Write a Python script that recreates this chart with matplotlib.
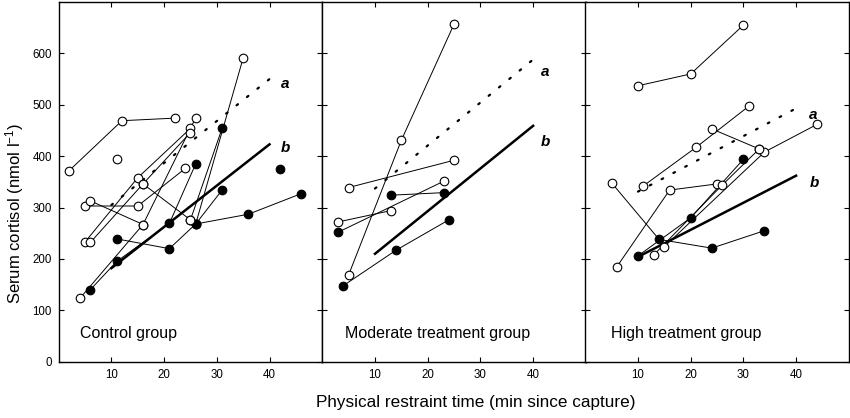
import matplotlib
matplotlib.use("Agg")
import matplotlib.pyplot as plt

plt.rcParams['font.family'] = ['Liberation Sans', 'DejaVu Sans']
plt.rcParams['mathtext.default'] = 'regular'

# ---------------- data ----------------
panel_titles = ["Control group", "Moderate treatment group", "High treatment group"]
x_ticks = [10, 20, 30, 40]
y_ticks = [0, 100, 200, 300, 400, 500, 600]

# Control group: individual series (x = min since capture, y = nmol/l, filled flag)
ctrl_x = [[2, 12, 22], [5, 15, 25], [6, 16, 25], [5, 15, 24], [6, 16], [16, 25],
          [4, 16, 26], [6, 11, 21, 26], [11, 21, 26, 36, 46], [26, 31], [26, 35],
          [25, 31], [11], [42]]
ctrl_y = [[372, 469, 474], [233, 358, 454], [232, 346, 446], [303, 303, 376], [313, 267], [346, 276],
          [123, 267, 475], [140, 195, 269, 385], [239, 220, 268, 287, 327], [268, 334], [268, 591],
          [276, 454], [394], [375]]
ctrl_f = [[0, 0, 0], [0, 0, 0], [0, 0, 0], [0, 0, 0], [0, 0], [0, 0],
          [0, 0, 0], [1, 1, 1, 1], [1, 1, 1, 1, 1], [1, 1], [1, 0],
          [0, 1], [0], [1]]

# Moderate treatment group
mod_x = [[5, 15, 25], [5, 25], [3, 13], [3, 23], [13, 23], [4, 14, 24]]
mod_y = [[169, 431, 657], [339, 392], [272, 294], [252, 351], [324, 329], [148, 217, 276]]
mod_f = [[0, 0, 0], [0, 0], [0, 0], [1, 0], [1, 1], [1, 1, 1]]

# High treatment group
high_x = [[10, 20, 30], [11, 21, 31], [5, 14, 24, 34], [6, 16, 25], [10, 20, 30],
          [13, 26, 33], [15, 34, 44], [24, 33]]
high_y = [[537, 560, 655], [342, 417, 497], [348, 238, 221, 255], [185, 334, 346], [206, 280, 394],
          [208, 344, 414], [224, 408, 462], [453, 414]]
high_f = [[0, 0, 0], [0, 0, 0], [0, 1, 1, 1], [0, 0, 0], [1, 1, 1],
          [0, 0, 0], [0, 0, 0], [0, 0]]

# Regression lines a (dotted) and b (solid) for each panel
reg_x = [10, 40]
reg_a_y = [[305, 550], [337, 588], [331, 493]]
reg_b_y = [[182, 423], [210, 459], [204, 362]]
label_x = [42.2, 41.5, 42.5]
label_a_y = [540, 564, 480]
label_b_y = [415, 428, 348]

panels_x = [ctrl_x, mod_x, high_x]
panels_y = [ctrl_y, mod_y, high_y]
panels_f = [ctrl_f, mod_f, high_f]

# ---------------- figure ----------------
fig = plt.figure(figsize=(8.5, 4.18), dpi=100)
W = 850.0
H = 418.0
lefts = [58.7, 322.3, 585.3]
pw = 263.5
bottom = 1 - 361.7 / H
top = 1 - 2.0 / H

axes = []
for i in range(3):
    ax = fig.add_axes([lefts[i] / W, bottom, pw / W, top - bottom])
    axes.append(ax)
    for sx, sy, sf in zip(panels_x[i], panels_y[i], panels_f[i]):
        if len(sx) > 1:
            ax.plot(sx, sy, '-', color='black', lw=0.7, zorder=2)
    # regression lines
    ax.plot(reg_x, reg_a_y[i], color='black', lw=1.6, linestyle=(0, (0.8, 5.2)),
            dash_capstyle='round', zorder=3)
    ax.plot(reg_x, reg_b_y[i], color='black', lw=1.8, zorder=3)
    # markers
    for sx, sy, sf in zip(panels_x[i], panels_y[i], panels_f[i]):
        for xx, yy, ff in zip(sx, sy, sf):
            ax.plot([xx], [yy], 'o', ms=6.2, mew=0.8, mec='black',
                    mfc='black' if ff else 'white', zorder=4)
    ax.text(label_x[i], label_a_y[i], 'a', fontsize=11, fontweight='bold',
            fontstyle='italic', va='center', ha='left')
    ax.text(label_x[i], label_b_y[i], 'b', fontsize=11, fontweight='bold',
            fontstyle='italic', va='center', ha='left')
    ax.text(4.0 + 0.4 * i, 54, panel_titles[i], fontsize=11.5, va='center', ha='left')

    ax.set_xlim(0, 50)
    ax.set_ylim(0, 700)
    ax.set_xticks(x_ticks)
    ax.set_yticks(y_ticks)
    ax.tick_params(direction='in', top=True, right=True, length=3.5, width=0.8,
                   labelsize=8.3, pad=5)
    if i > 0:
        ax.set_yticklabels([])
    for sp in ax.spines.values():
        sp.set_linewidth(1.0)

fig.text(476 / W, 1 - 402 / H, 'Physical restraint time (min since capture)',
         fontsize=12.3, ha='center', va='center')
fig.text(15 / W, 1 - 213 / H, 'Serum cortisol (nmol l$^{-1}$)', fontsize=12,
         rotation=90, ha='center', va='center')

fig.savefig('out.png', dpi=100)
